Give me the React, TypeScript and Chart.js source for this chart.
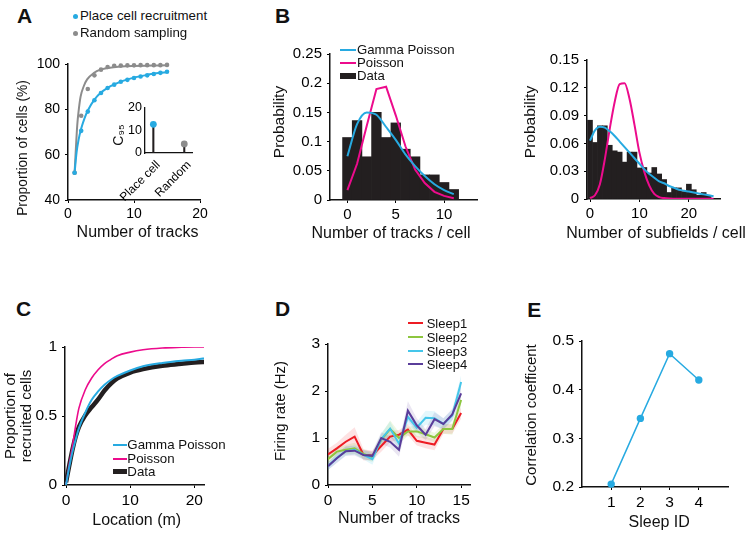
import React, { useEffect, useRef } from "react";
import { Chart, registerables } from "chart.js";
Chart.register(...registerables);

const FONT = "'Liberation Sans', Arial, Helvetica, sans-serif";
Chart.defaults.font.family = FONT;
Chart.defaults.color = "#111";

const BLUE = "#27aae1";
const GRAY = "#8c8c8c";
const PINK = "#ec0b8c";
const BLACK = "#231f20";
const RED = "#ed1c24";
const GREEN = "#8dc63f";
const CYAN = "#45c6ea";
const PURPLE = "#5a3d9a";

// ---------- Panel A ----------
const tracksA = [1, 2, 3, 4, 5, 6, 7, 8, 9, 10, 11, 12, 13, 14, 15];
const placeCellPct = [52, 70.5, 79, 84, 87.2, 89.4, 90.9, 92.2, 93, 93.8, 94.5, 95, 95.6, 96.1, 96.6];
const randomPct = [52, 77.2, 89, 95, 97.5, 98.7, 99.2, 99.3, 99.4, 99.4, 99.5, 99.5, 99.5, 99.5, 99.6];
const placeFitX = [1, 1.3, 1.6, 2, 2.5, 3, 4, 5, 6, 7, 9, 12, 15];
const placeFitY = [52, 61, 66.5, 71.5, 76, 79.5, 84.3, 87.4, 89.5, 91, 93.2, 95.2, 96.5];
const randomFitX = [1, 1.2, 1.4, 1.6, 1.9, 2.4, 2.9, 3.9, 4.9, 6.9, 8.9, 15];
const randomFitY = [52, 63, 73, 79, 85.5, 90.3, 93.2, 96, 97.5, 98.6, 99, 99.4];
const xTicksA = [0, 10, 20];
const yTicksA = [40, 60, 80, 100];

// inset
const insetCats = ["Place cell", "Random"];
const c95 = [12.6, 4.0];
const insetYTicks = [0, 10, 20];

// ---------- Panel B (left) ----------
const tracksB = [0, 1, 2, 3, 4, 5, 6, 7, 8, 9, 10, 11];
const dataB1 = [0.107, 0.136, 0.074, 0.15, 0.107, 0.132, 0.087, 0.074, 0.043, 0.043, 0.03, 0.018];
const gammaB1 = [0.075, 0.13, 0.15, 0.146, 0.125, 0.103, 0.078, 0.058, 0.041, 0.027, 0.017, 0.01];
const poissonB1 = [0.017, 0.062, 0.127, 0.19, 0.194, 0.145, 0.092, 0.052, 0.029, 0.014, 0.007, 0.003];
const xTicksB1 = [0, 5, 10];
const yTicksB1 = [0, 0.05, 0.1, 0.15, 0.2, 0.25];

// ---------- Panel B (right) ----------
const subfieldBins = [0, 1, 2, 3, 4, 5, 6, 7, 8, 9, 10, 11, 12, 13, 14, 15, 16, 17, 18, 19, 20, 21, 22, 23, 24];
const dataB2 = [0.085, 0.061, 0.079, 0.079, 0.058, 0.052, 0.0506, 0.0398, 0.0506, 0.0506, 0.0335, 0.034, 0.028, 0.034, 0.027, 0.021, 0.007, 0.012, 0.012, 0.008, 0.016, 0.01, 0.004, 0.007, 0.004];
const subfieldCurveX = [0, 1, 2, 3, 4, 5, 6, 7, 8, 9, 10, 11, 12, 13, 14, 15, 16, 17, 18, 19, 20, 21, 22, 23, 24, 25];
const gammaB2 = [0.063, 0.074, 0.078, 0.077, 0.073, 0.068, 0.062, 0.056, 0.05, 0.044, 0.038, 0.032, 0.027, 0.023, 0.019, 0.017, 0.014, 0.012, 0.01, 0.009, 0.008, 0.007, 0.006, 0.005, 0.004, 0.003];
const poissonB2 = [0.001, 0.004, 0.016, 0.043, 0.076, 0.105, 0.124, 0.125, 0.108, 0.08, 0.05, 0.029, 0.0145, 0.0055, 0.002, 0.001, 0.0005, 0.0003, 0.0002, 0.0002, 0.0002, 0.0002, 0.0002, 0.0002, 0.0002, 0.0002];
const xTicksB2 = [0, 10, 20];
const yTicksB2 = [0, 0.03, 0.06, 0.09, 0.12, 0.15];

// ---------- Panel C ----------
const locationM = [0, 0.5, 1, 1.5, 2, 3, 4, 5, 6, 7, 8, 10, 12, 15, 18, 20, 22];
const poissonC = [0, 0.15, 0.28, 0.43, 0.555, 0.69, 0.775, 0.835, 0.88, 0.91, 0.937, 0.963, 0.98, 0.993, 0.998, 1.0, 1.0];
const gammaC = [0, 0.13, 0.24, 0.33, 0.41, 0.525, 0.617, 0.678, 0.726, 0.763, 0.79, 0.83, 0.86, 0.884, 0.9, 0.908, 0.92];
const dataC = [0.02, 0.14, 0.255, 0.35, 0.42, 0.505, 0.565, 0.62, 0.685, 0.735, 0.772, 0.815, 0.84, 0.864, 0.878, 0.888, 0.893];
const xTicksC = [0, 10, 20];
const yTicksC = [0, 0.5, 1];

// ---------- Panel D ----------
const tracksD = [0, 1, 2, 3, 4, 5, 6, 7, 8, 9, 10, 11, 12, 13, 14, 15];
const sleep1 = [0.65, 0.78, 0.92, 1.03, 0.64, 0.63, 0.83, 1.03, 1.07, 1.18, 0.94, 0.9, 0.86, 1.19, 1.19, 1.53];
const sleep2 = [0.55, 0.71, 0.75, 0.78, 0.66, 0.59, 0.96, 1.19, 1.0, 1.14, 1.14, 1.08, 1.01, 1.19, 1.19, 1.81];
const sleep3 = [0.4, 0.58, 0.72, 0.75, 0.64, 0.55, 0.98, 1.2, 0.88, 1.45, 1.22, 1.43, 1.42, 1.3, 1.48, 2.19];
const sleep4 = [0.4, 0.57, 0.72, 0.73, 0.64, 0.62, 1.0, 0.92, 0.75, 1.58, 1.27, 1.07, 1.4, 1.3, 1.5, 1.95];
const sleep1Sem = [0.12, 0.12, 0.15, 0.2, 0.12, 0.1, 0.12, 0.12, 0.1, 0.12, 0.1, 0.12, 0.12, 0.1, 0.1, 0.12];
const sleep2Sem = [0.1, 0.1, 0.1, 0.12, 0.1, 0.1, 0.12, 0.18, 0.12, 0.1, 0.12, 0.1, 0.1, 0.1, 0.12, 0.15];
const sleep3Sem = [0.08, 0.1, 0.1, 0.1, 0.1, 0.12, 0.12, 0.15, 0.12, 0.15, 0.12, 0.15, 0.15, 0.12, 0.12, 0.15];
const sleep4Sem = [0.08, 0.1, 0.1, 0.1, 0.1, 0.1, 0.12, 0.12, 0.15, 0.2, 0.15, 0.12, 0.15, 0.12, 0.12, 0.18];
const xTicksD = [0, 5, 10, 15];
const yTicksD = [0, 1, 2, 3];

// ---------- Panel E ----------
const sleepId = [1, 2, 3, 4];
const corrCoef = [0.206, 0.341, 0.474, 0.42];
const xTicksE = [1, 2, 3, 4];
const yTicksE = [0.2, 0.3, 0.4, 0.5];

// ---------- helpers ----------
type Margin = { l: number; t: number; r: number; b: number };
type Area = [number, number, number, number];
interface AxisSpec {
  min: number;
  max: number;
  ticks: number[];
  size: number;
  labels?: string[];
  rotation?: number;
  tickLen?: number;
  pad?: number;
  border?: number;
  labelOffset?: number;
}

const pts = (xs: number[], ys: number[]) => xs.map((x, i) => ({ x, y: ys[i] }));

function makeScale(spec: AxisSpec, horizontal: boolean, m: Margin): any {
  const tl = spec.tickLen ?? 3;
  return {
    type: "linear",
    min: spec.min,
    max: spec.max,
    offset: false,
    afterBuildTicks: (s: any) => {
      s.ticks = spec.ticks.map((v) => ({ value: v }));
    },
    afterFit: (s: any) => {
      if (horizontal) s.height = m.b;
      else s.width = m.l;
    },
    ticks: {
      color: "#000",
      font: { size: spec.size, family: FONT },
      padding: spec.pad ?? (horizontal ? 3 : 5),
      autoSkip: false,
      maxRotation: spec.rotation ?? 0,
      minRotation: spec.rotation ?? 0,
      labelOffset: spec.labelOffset ?? 0,
      callback: (v: number) => {
        const i = spec.ticks.indexOf(v);
        return spec.labels ? spec.labels[i] : String(v);
      },
    },
    grid: {
      display: true,
      drawOnChartArea: false,
      drawTicks: tl > 0,
      tickLength: tl,
      color: "#000",
      lineWidth: 1,
      offset: false,
    },
    border: { display: true, color: "#111", width: spec.border ?? 1.5 },
  };
}

function ChartPanel(props: {
  area: Area;
  margin: Margin;
  type: any;
  datasets: any[];
  x: AxisSpec;
  y: AxisSpec;
}) {
  const { area, margin, type, datasets, x, y } = props;
  const ref = useRef<HTMLCanvasElement>(null);
  const [l, t, r, b] = area;
  const left = l - margin.l;
  const top = t - margin.t;
  const w = r - l + margin.l + margin.r;
  const h = b - t + margin.t + margin.b;
  useEffect(() => {
    const chart = new Chart(ref.current as HTMLCanvasElement, {
      type,
      data: { datasets },
      options: {
        responsive: false,
        animation: false,
        devicePixelRatio: 1,
        events: [],
        layout: { padding: { left: 0, top: margin.t, right: margin.r, bottom: 0 } },
        plugins: { legend: { display: false }, tooltip: { enabled: false }, title: { display: false } },
        scales: { x: makeScale(x, true, margin), y: makeScale(y, false, margin) },
      } as any,
    });
    return () => chart.destroy();
  }, []);
  return (
    <canvas
      ref={ref}
      width={w}
      height={h}
      style={{ position: "absolute", left, top, width: w, height: h }}
    />
  );
}

function Label(props: {
  x: number;
  y: number;
  text: string;
  size: number;
  rotate?: boolean;
  bold?: boolean;
  left?: boolean;
  lineHeight?: number;
}) {
  const { x, y, text, size, rotate, bold, left, lineHeight } = props;
  const transform = left
    ? "translateY(-50%)"
    : `translate(-50%, -50%)${rotate ? " rotate(-90deg)" : ""}`;
  return (
    <div
      style={{
        position: "absolute",
        left: x,
        top: y,
        fontSize: size,
        fontFamily: FONT,
        fontWeight: bold ? 700 : 400,
        lineHeight: lineHeight ? `${lineHeight}px` : 1,
        whiteSpace: "pre",
        textAlign: "center",
        color: "#111",
        transform,
      }}
    >
      {text}
    </div>
  );
}

function Key(props: { x: number; y: number; w: number; h: number; color: string; round?: boolean }) {
  const { x, y, w, h, color, round } = props;
  return (
    <div
      style={{
        position: "absolute",
        left: x,
        top: y - h / 2,
        width: w,
        height: h,
        background: color,
        borderRadius: round ? "50%" : 0,
      }}
    />
  );
}

const M: Margin = { l: 50, t: 15, r: 20, b: 30 };

export default function App() {
  const lineDs = (data: any[], color: string, width: number, smooth = true, extra: any = {}) => ({
    type: "line",
    data,
    borderColor: color,
    backgroundColor: color,
    borderWidth: width,
    pointRadius: 0,
    fill: false,
    cubicInterpolationMode: smooth ? "monotone" : "default",
    tension: 0,
    ...extra,
  });

  // Panel A
  const dsA = [
    { type: "scatter", data: pts(tracksA, placeCellPct), backgroundColor: BLUE, borderWidth: 0, pointRadius: 2.3, clip: false },
    { type: "scatter", data: pts(tracksA, randomPct), backgroundColor: GRAY, borderWidth: 0, pointRadius: 2.3, clip: false },
    lineDs(pts(placeFitX, placeFitY), BLUE, 2),
    lineDs(pts(randomFitX, randomFitY), GRAY, 2),
  ];
  const insetDs = [
    {
      type: "scatter",
      data: pts([0, 1], c95),
      pointBackgroundColor: [BLUE, GRAY],
      backgroundColor: [BLUE, GRAY],
      borderWidth: 0,
      pointRadius: 3.4,
      clip: false,
    },
    { type: "bar", data: pts([0, 1], c95), backgroundColor: BLACK, barThickness: 1.4, borderWidth: 0 },
  ];

  // Panel B
  const dsB1 = [
    lineDs(pts(tracksB, gammaB1), BLUE, 2, true),
    lineDs(pts(tracksB, poissonB1), PINK, 2, false),
    { type: "bar", data: pts(tracksB, dataB1), backgroundColor: BLACK, borderWidth: 0, barPercentage: 1, categoryPercentage: 1 },
  ];
  const dsB2 = [
    lineDs(pts(subfieldCurveX, gammaB2), BLUE, 2, true),
    lineDs(pts(subfieldCurveX, poissonB2), PINK, 2, true),
    { type: "bar", data: pts(subfieldBins, dataB2), backgroundColor: BLACK, borderWidth: 0, barPercentage: 1, categoryPercentage: 1 },
  ];

  // Panel C
  const dsC = [
    lineDs(pts(locationM, gammaC), BLUE, 2),
    lineDs(pts(locationM, poissonC), PINK, 1.6),
    lineDs(pts(locationM, dataC), BLACK, 4.5),
  ];

  // Panel D
  const band = (ys: number[], sem: number[], color: string) => [
    {
      type: "line",
      data: pts(tracksD, ys.map((v, i) => v + sem[i])),
      borderWidth: 0,
      pointRadius: 0,
      backgroundColor: color,
      fill: "+1",
    },
    {
      type: "line",
      data: pts(tracksD, ys.map((v, i) => v - sem[i])),
      borderWidth: 0,
      pointRadius: 0,
      backgroundColor: color,
      fill: false,
    },
  ];
  const dsD = [
    lineDs(pts(tracksD, sleep4), PURPLE, 2, false),
    lineDs(pts(tracksD, sleep3), CYAN, 2, false),
    lineDs(pts(tracksD, sleep2), GREEN, 2, false),
    lineDs(pts(tracksD, sleep1), RED, 2, false),
    ...band(sleep4, sleep4Sem, "rgba(90,61,154,0.13)"),
    ...band(sleep3, sleep3Sem, "rgba(69,198,234,0.15)"),
    ...band(sleep2, sleep2Sem, "rgba(141,198,63,0.15)"),
    ...band(sleep1, sleep1Sem, "rgba(237,28,36,0.13)"),
  ];

  // Panel E
  const dsE = [
    lineDs(pts(sleepId, corrCoef), BLUE, 1.5, false, {
      pointRadius: 3.7,
      pointBackgroundColor: BLUE,
      pointBorderWidth: 0,
      clip: false,
    }),
  ];

  return (
    <div style={{ position: "absolute", left: 0, top: 0, width: 750, height: 534, background: "#fff", overflow: "hidden" }}>
      {/* Panel A */}
      <ChartPanel
        area={[68, 64, 200, 200]}
        margin={M}
        type="line"
        datasets={dsA}
        x={{ min: 0, max: 20, ticks: xTicksA, size: 14 }}
        y={{ min: 40, max: 100, ticks: yTicksA, size: 14 }}
      />
      <ChartPanel
        area={[145, 107, 192, 153]}
        margin={{ l: 45, t: 10, r: 10, b: 50 }}
        type="bar"
        datasets={insetDs}
        x={{ min: -0.27, max: 1.25, ticks: [0, 1], labels: insetCats, size: 12, rotation: 45, tickLen: 0, pad: 5, border: 1.3, labelOffset: 5 }}
        y={{ min: 0, max: 20, ticks: insetYTicks, size: 12.5, tickLen: 0, pad: 3, border: 1.3 }}
      />
      {/* Panel B left */}
      <ChartPanel
        area={[330, 54, 477, 200]}
        margin={M}
        type="bar"
        datasets={dsB1}
        x={{ min: -1.8, max: 13.4, ticks: xTicksB1, size: 15 }}
        y={{ min: 0, max: 0.25, ticks: yTicksB1, size: 15 }}
      />
      {/* Panel B right */}
      <ChartPanel
        area={[587, 60, 720, 199]}
        margin={M}
        type="bar"
        datasets={dsB2}
        x={{ min: -0.61, max: 26.3, ticks: xTicksB2, size: 15 }}
        y={{ min: 0, max: 0.15, ticks: yTicksB2, size: 15 }}
      />
      {/* Panel C */}
      <ChartPanel
        area={[65, 347, 204, 485]}
        margin={M}
        type="line"
        datasets={dsC}
        x={{ min: -0.16, max: 21.5, ticks: xTicksC, size: 15.5 }}
        y={{ min: 0, max: 1, ticks: yTicksC, size: 15.5 }}
      />
      {/* Panel D */}
      <ChartPanel
        area={[328, 344, 470, 485]}
        margin={M}
        type="line"
        datasets={dsD}
        x={{ min: 0, max: 16, ticks: xTicksD, size: 15.5 }}
        y={{ min: 0, max: 3, ticks: yTicksD, size: 15.5 }}
      />
      {/* Panel E */}
      <ChartPanel
        area={[582, 341, 728, 487]}
        margin={M}
        type="line"
        datasets={dsE}
        x={{ min: 0, max: 5, ticks: xTicksE, size: 15.5 }}
        y={{ min: 0.2, max: 0.5, ticks: yTicksE, size: 15.5 }}
      />

      {/* Panel letters */}
      <Label x={24.5} y={14.5} text="A" size={21} bold />
      <Label x={282.5} y={15} text="B" size={21} bold />
      <Label x={23.5} y={307.5} text="C" size={21} bold />
      <Label x={282.5} y={308.3} text="D" size={21} bold />
      <Label x={534.2} y={309.2} text="E" size={21} bold />

      {/* Panel A texts */}
      <Key x={73} y={16} w={5} h={5} color={BLUE} round />
      <Label x={80} y={16} text="Place cell recruitment" size={13.3} left />
      <Key x={73} y={33.3} w={5} h={5} color={GRAY} round />
      <Label x={80} y={33.3} text="Random sampling" size={13.3} left />
      <Label x={22.5} y={148} text="Proportion of cells (%)" size={13.8} rotate />
      <Label x={137.5} y={232} text="Number of tracks" size={16} />
      <Label x={118} y={135} text="C₉₅" size={14} rotate />

      {/* Panel B texts */}
      <Key x={340} y={50} w={16} h={2} color={BLUE} />
      <Label x={357} y={50} text="Gamma Poisson" size={13.2} left />
      <Key x={340} y={62.7} w={16} h={2} color={PINK} />
      <Label x={357} y={62.7} text="Poisson" size={13.2} left />
      <Key x={340} y={76} w={16} h={6} color={BLACK} />
      <Label x={357} y={76} text="Data" size={13.2} left />
      <Label x={279} y={122} text="Probability" size={15.5} rotate />
      <Label x={391} y={233.3} text="Number of tracks / cell" size={16} />
      <Label x={530} y={122} text="Probability" size={15.5} rotate />
      <Label x={656} y={233.3} text="Number of subfields / cell" size={16} />

      {/* Panel C texts */}
      <Key x={113.3} y={445} w={13.5} h={2} color={BLUE} />
      <Label x={127.3} y={445} text="Gamma Poisson" size={13.3} left />
      <Key x={113.3} y={459.3} w={13.5} h={2} color={PINK} />
      <Label x={127.3} y={459.3} text="Poisson" size={13.3} left />
      <Key x={113.3} y={471.7} w={13.5} h={5} color={BLACK} />
      <Label x={127.3} y={471.7} text="Data" size={13.3} left />
      <Label x={18} y={416} text={"Proportion of\nrecruited cells"} size={15} rotate lineHeight={16} />
      <Label x={136.7} y={520} text="Location (m)" size={16} />

      {/* Panel D texts */}
      <Key x={408.3} y={323.3} w={15} h={2} color={RED} />
      <Label x={426.7} y={323.3} text="Sleep1" size={13} left />
      <Key x={408.3} y={336.7} w={15} h={2} color={GREEN} />
      <Label x={426.7} y={336.7} text="Sleep2" size={13} left />
      <Key x={408.3} y={351} w={15} h={2} color={CYAN} />
      <Label x={426.7} y={351} text="Sleep3" size={13} left />
      <Key x={408.3} y={364.3} w={15} h={2} color={PURPLE} />
      <Label x={426.7} y={364.3} text="Sleep4" size={13} left />
      <Label x={279.3} y={411} text="Firing rate (Hz)" size={15} rotate />
      <Label x={399} y={518.3} text="Number of tracks" size={16} />

      {/* Panel E texts */}
      <Label x={530} y={415} text="Correlation coefficent" size={15} rotate />
      <Label x={659.2} y={521.7} text="Sleep ID" size={16} />
    </div>
  );
}
